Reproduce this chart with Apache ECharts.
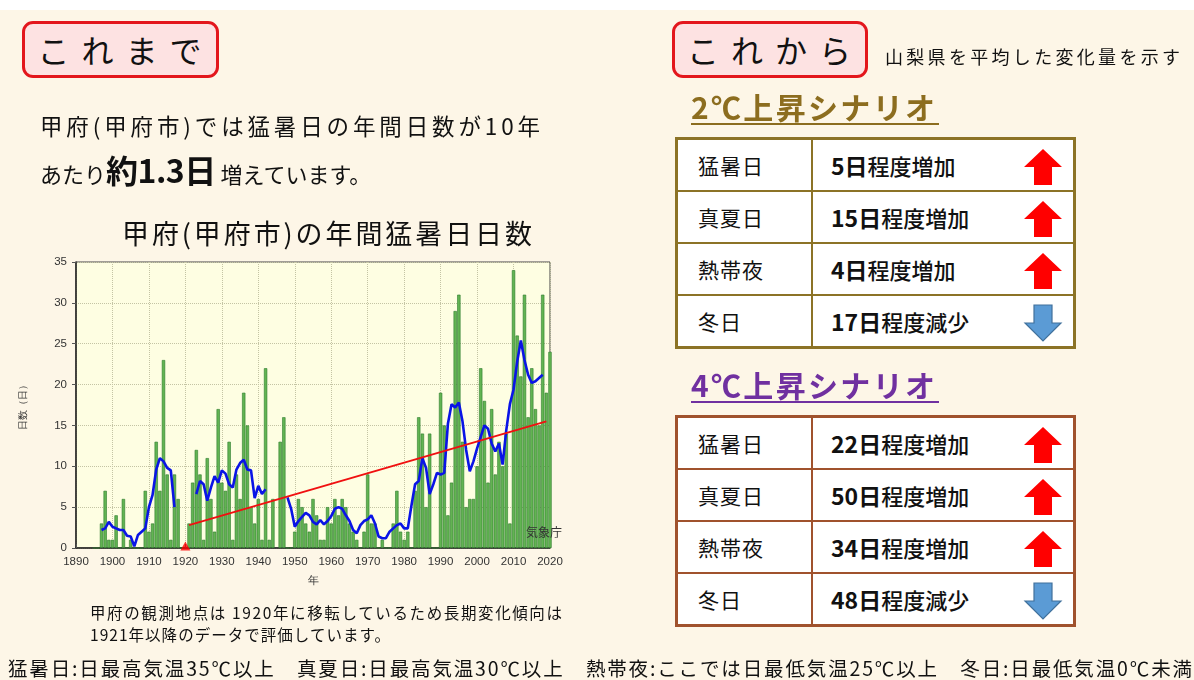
<!DOCTYPE html>
<html>
<head>
<meta charset="utf-8">
<script src="https://cdn.jsdelivr.net/npm/echarts@6/dist/echarts.min.js"></script>
<style>
body{margin:0;width:1194px;height:680px;overflow:hidden;background:#fff;font-family:"Noto Sans CJK JP",sans-serif;color:#111;}
#page{position:absolute;left:0;top:10px;width:1194px;height:670px;background:#fdf6e7;}
#chart{position:absolute;left:0;top:0;width:1194px;height:680px;}
.abs{position:absolute;white-space:nowrap;}
.tag{position:absolute;border:3px solid #e3161c;border-radius:11px;background:#fde2e2;font-size:32px;letter-spacing:12px;text-align:center;box-sizing:border-box;padding-left:10px;}
.scn{position:absolute;font-size:30px;font-weight:bold;white-space:nowrap;border-bottom:2px solid;line-height:34px;padding-right:2px;}
table.tb{position:absolute;border-collapse:collapse;background:#fff;}
table.tb td{height:50px;font-size:21px;padding:0;}
table.tb td.lb{width:113px;padding-left:20px;}
table.tb td.vl{padding-left:18px;position:relative;font-weight:500;font-size:22px;}
table.tb td.vl b{font-size:23px;font-weight:bold;}
.arr{position:absolute;left:210px;top:8px;}
</style>
</head>
<body>
<div id="page"></div>
<div id="chart"></div>

<div class="tag" style="left:22px;top:21px;width:197px;height:57px;line-height:50px;">これまで</div>
<div class="tag" style="left:672px;top:21px;width:196px;height:57px;line-height:50px;">これから</div>
<div class="abs fit" data-w="295" style="left:885px;top:43px;font-size:18px;">山梨県を平均した変化量を示す</div>

<div class="abs fit" data-w="500" style="left:40px;top:109px;font-size:22.5px;">甲府(甲府市)では猛暑日の年間日数が10年</div>
<div class="abs" style="left:40px;top:146px;font-size:22px;">あたり<b style="font-size:32px;letter-spacing:-0.5px;">約1.3日</b> 増えています。</div>
<div class="abs fit" data-w="410" style="left:122px;top:213px;font-size:27px;">甲府(甲府市)の年間猛暑日日数</div>

<div class="scn fit" data-w="246" style="left:691px;top:89px;color:#8c6d1f;border-color:#8c6d1f;">2℃上昇シナリオ</div>
<div class="scn fit" data-w="246" style="left:691px;top:367px;color:#7030a0;border-color:#7030a0;">4℃上昇シナリオ</div>

<table class="tb" id="t2" style="left:675px;top:137px;width:401px;"></table>
<table class="tb" id="t4" style="left:675px;top:415px;width:401px;"></table>

<div class="abs fit" data-w="472" style="left:90px;top:601px;font-size:15.5px;">甲府の観測地点は 1920年に移転しているため長期変化傾向は</div>
<div class="abs fit" data-w="300" style="left:90px;top:623px;font-size:15.5px;">1921年以降のデータで評価しています。</div>
<div class="abs fit" data-w="1184" style="left:8px;top:653px;font-size:19.5px;">猛暑日:日最高気温35℃以上　真夏日:日最高気温30℃以上　熱帯夜:ここでは日最低気温25℃以上　冬日:日最低気温0℃未満</div>

<script>
// 甲府 年間猛暑日日数（1895年〜2020年）、'-' は欠測
const firstYear = 1895;
const hotDays = [
    0, 0, 3, 7, 1,                      // 1895-1899
    1, 4, 0, 6, 0, 1, 0, 0, 0, 7,       // 1900-
    2, 3, 13, 7, 23, 9, 1, 9, 6, 0,     // 1910-
    '-', 3, 8, 12, 9, 1, 11, 6, 2, 17,  // 1920-
    8, 7, 13, 1, 9, 6, 19, 15, 5, 3,    // 1930-
    6, 1, 22, 1, 6, '-', 13, 16, 0, 0,  // 1940-
    2, 6, 5, 3, 2, 6, 4, 1, 1, 5,       // 1950-
    3, 6, 4, 6, 5, 3, 2, 1, 0, 2,       // 1960-
    9, 3, 3, 0, 1, 0, 0, 3, 7, 2,       // 1970-
    1, 2, 0, 7, 16, 14, 5, 14, 0, 0,    // 1980-
    19, 15, 4, 8, 29, 31, 13, 5, 6, 6,  // 1990-
    10, 22, 18, 8, 17, 9, 13, 10, 14, 3,// 2000-
    34, 26, 21, 31, 16, 22, 17, 15, 31, 19, // 2010-
    24                                  // 2020
];

// 5年移動平均（青線）、区間ごと
const avgStart1 = 1897;
const avg1 = [2.2, 2.4, 3.2, 2.6, 2.4, 2.2, 2.2, 1.5, 1.4, 0.2, 1.6, 2.0, 2.4, 5.0, 6.5, 9.6, 11.0, 10.6, 9.8, 9.5, 5.0];
const avgStart2 = 1923;
const avg2 = [6.6, 8.2, 7.8, 5.8, 7.4, 8.8, 8.0, 9.5, 9.1, 7.8, 7.4, 9.6, 10.4, 10.8, 9.6, 9.5, 6.1, 7.6, 6.6, 7.2];
const avgStart3 = 1948;
const avg3 = [
    6.2, 4.8, 2.6, 3.3, 3.8, 4.3, 4.0, 3.2, 2.9, 3.4, 2.9, 3.3,  // 1948-1959
    3.9, 4.8, 5.0, 4.8, 4.0, 3.3, 2.2, 1.8, 2.8, 3.3,            // 1960-1969
    3.5, 4.0, 3.0, 1.4, 1.2, 1.2, 2.0, 2.4, 2.8, 3.0,            // 1970-1979
    2.4, 2.4, 5.2, 7.8, 8.2, 11.0, 9.8, 6.6, 7.8, 9.2,           // 1980-1989
    9.0, 9.2, 15.2, 17.6, 17.2, 17.8, 15.5, 12.0, 9.4, 10.6,     // 1990-1999
    12.2, 13.6, 15.0, 14.6, 12.8, 11.8, 12.8, 10.2, 14.4, 17.6,  // 2000-2009
    19.4, 22.8, 25.4, 23.0, 21.2, 20.2, 20.4, 20.8, 21.2         // 2010-2018
];

// 長期変化傾向（赤線）
const trendYears = [1921, 2019];
const trendValues = [2.8, 15.5];
const movedYear = 1920;

const xTicks = [1890, 2020];
const yTicks = [0, 35];

// シナリオ表
const items = ['猛暑日', '真夏日', '熱帯夜', '冬日'];
const change2 = ['5日', '15日', '4日', '17日'];
const change4 = ['22日', '50日', '34日', '48日'];
const trend = ['増加', '増加', '増加', '減少'];

const upArrow = '<svg class="arr" width="40" height="38" viewBox="0 0 40 38"><polygon points="20,1 39,19 29,19 29,37 11,37 11,19 1,19" fill="#ff0000"/></svg>';
const downArrow = '<svg class="arr" width="40" height="38" viewBox="0 0 40 38"><polygon points="11,1 29,1 29,19 38,19 20,37 2,19 11,19" fill="#5b9bd5" stroke="#41719c" stroke-width="1.2"/></svg>';

function buildTable(id, values, color){
    const t = document.getElementById(id);
    t.style.border = '3px solid ' + color;
    let html = '';
    items.forEach((name, i) => {
        const b = '2px solid ' + color;
        html += '<tr><td class="lb" style="border:' + b + ';letter-spacing:1px">' + name + '</td>'
            + '<td class="vl" style="border:' + b + '"><b>' + values[i] + '</b>程度' + trend[i]
            + (trend[i] === '増加' ? upArrow : downArrow) + '</td></tr>';
    });
    t.innerHTML = html;
}
buildTable('t2', change2, '#8c7326');
buildTable('t4', change4, '#a0522d');

// 文字間を広げて元の幅に合わせる
document.querySelectorAll('.fit').forEach(el => {
    const w = el.getBoundingClientRect().width;
    const n = el.textContent.length;
    el.style.letterSpacing = ((+el.dataset.w - w) / (n - 1)) + 'px';
});

function pairs(start, vals){
    return vals.map((v, i) => [start + i, v]);
}
const avgData = pairs(avgStart1, avg1).concat([[1918, '-']], pairs(avgStart2, avg2), [[1943, '-']], pairs(avgStart3, avg3));

const chart = echarts.init(document.getElementById('chart'));
chart.setOption({
    animation: false,
    grid: {left: 76, top: 262, width: 474, height: 286, show: true, backgroundColor: '#fefee2', borderColor: '#444', borderWidth: 1},
    xAxis: {
        type: 'value', min: xTicks[0], max: xTicks[1], interval: 10,
        name: '年', nameLocation: 'middle', nameGap: 27,
        nameTextStyle: {fontSize: 11, color: '#333'},
        axisLine: {show: true, lineStyle: {color: '#222', width: 1.5}},
        axisTick: {show: true, inside: true, length: 4, lineStyle: {color: '#555'}},
        axisLabel: {color: '#333', fontSize: 11.5, margin: 8, fontFamily: 'Liberation Sans', formatter: v => String(v)},
        splitLine: {show: true, lineStyle: {color: '#c4c4a4', type: 'dotted'}}
    },
    yAxis: {
        type: 'value', min: yTicks[0], max: yTicks[1], interval: 5,
        name: '日数（日）', nameLocation: 'middle', nameGap: 48, nameRotate: 90,
        nameTextStyle: {fontSize: 9.5, color: '#333'},
        axisLine: {show: true, lineStyle: {color: '#222', width: 1.5}},
        axisTick: {show: true, length: 4, lineStyle: {color: '#555'}},
        axisLabel: {color: '#333', fontSize: 11.5, margin: 9, fontFamily: 'Liberation Sans'},
        splitLine: {show: true, lineStyle: {color: '#c4c4a4', type: 'dotted'}}
    },
    graphic: [{
        type: 'text', left: 526, top: 526, z: 100,
        style: {text: '気象庁', fontSize: 12, fill: '#333', fontFamily: 'Noto Sans CJK JP'}
    }],
    series: [
        {
            type: 'bar', data: pairs(firstYear, hotDays), barWidth: 3.3, z: 2,
            itemStyle: {color: '#62b452', borderColor: '#2c7a2c', borderWidth: 0.6}
        },
        {
            type: 'line', data: avgData, symbol: 'none', z: 3,
            lineStyle: {color: '#0a14e6', width: 2.6}
        },
        {
            type: 'line', data: [[trendYears[0], trendValues[0]], [trendYears[1], trendValues[1]]],
            symbol: 'none', z: 4, lineStyle: {color: '#f01010', width: 2}
        },
        {
            type: 'scatter', data: [[movedYear, 0]], symbol: 'triangle', symbolSize: [10, 9],
            symbolOffset: [0, -2], z: 5, itemStyle: {color: '#ff0000'}
        }
    ]
});
</script>
</body>
</html>
